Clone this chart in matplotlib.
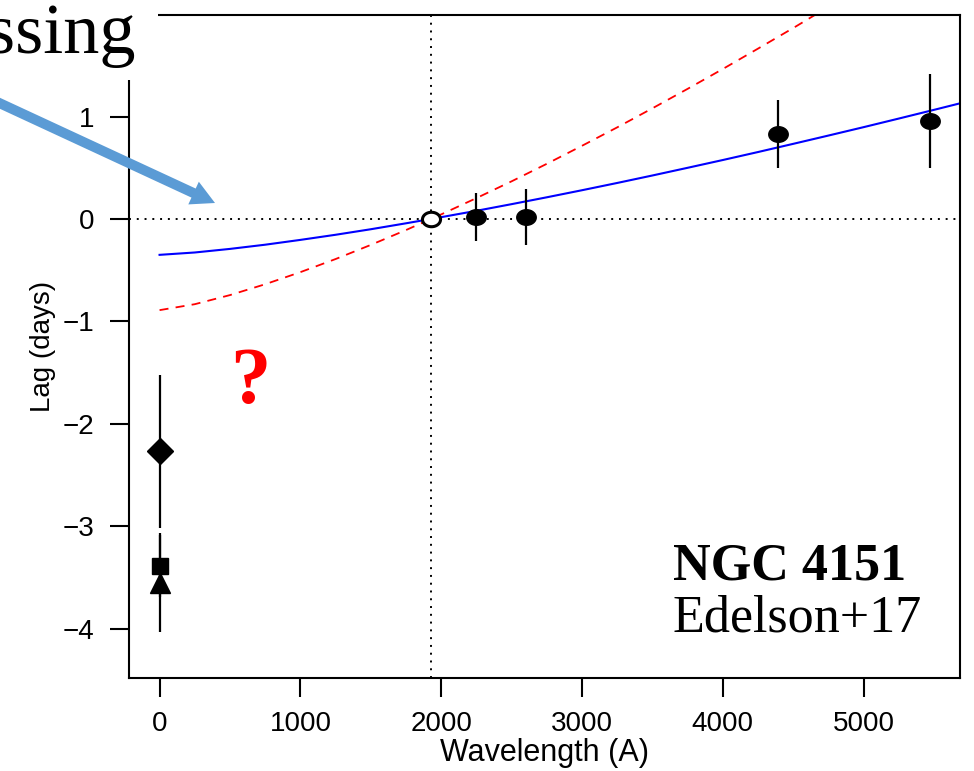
import numpy as np
import matplotlib
matplotlib.use("Agg")
import matplotlib.pyplot as plt
from matplotlib.path import Path
from matplotlib.patches import Rectangle

# --- DATA ---
# continuum lags relative to the 1928 A reference band
wave_pts = [2246, 2600, 4394, 5469]
lag_pts = [0.02, 0.02, 0.83, 0.96]
lag_err = [0.23, 0.27, 0.33, 0.46]

ref_wave = 1928
ref_lag = 0.0

# X-ray bands plotted at zero wavelength
xray_wave = [0, 0, 0]
xray_lag = [-2.27, -3.39, -3.55]
xray_err = [0.75, 0.30, 0.48]
xray_markers = ["D", "s", "^"]

# model curves read along the wavelength axis
model_wave = [0, 250, 500, 750, 1000, 1250, 1500, 1750, 2000, 2250, 2500, 2750,
              3000, 3250, 3500, 3750, 4000, 4250, 4500, 4750, 5000, 5250, 5500, 5700]
fit_lag = [-0.350, -0.327, -0.292, -0.251, -0.204, -0.154, -0.100, -0.042,
           0.018, 0.080, 0.145, 0.212, 0.281, 0.352, 0.425, 0.500, 0.576,
           0.654, 0.734, 0.815, 0.897, 0.981, 1.066, 1.135]
disk_lag = [-0.890, -0.832, -0.743, -0.637, -0.519, -0.391, -0.253, -0.108,
            0.045, 0.204, 0.368, 0.539, 0.715, 0.895, 1.081, 1.271, 1.465,
            1.664, 1.865, 2.072]

xticks = [0, 1000, 2000, 3000, 4000, 5000]
yticks = [-4, -3, -2, -1, 0, 1]

plt.rcParams['font.family'] = ['Liberation Sans', 'DejaVu Sans']
plt.rcParams['axes.unicode_minus'] = True

W, H = 974, 771
fig = plt.figure(figsize=(W / 100, H / 100), dpi=100)
ax = fig.add_axes([129 / W, 1 - 678 / H, (960 - 129) / W, (678 - 15) / H])

# slightly flattened circle marker
t = np.linspace(0, 2 * np.pi, 60)
ellipse = Path(np.column_stack([1.25 * np.cos(t), np.sin(t)]), closed=True)

dot = (0, (1, 3))
ax.axhline(0, color='black', lw=1.4, ls=dot, zorder=1)
ax.axvline(ref_wave, color='black', lw=1.4, ls=dot, zorder=1)

ax.plot(model_wave[:len(disk_lag)], disk_lag, color='#ff0000', lw=1.3,
        ls=(0, (5, 4)), zorder=2)
ax.plot(model_wave, fit_lag, color='#0000ff', lw=1.5, zorder=2)

ax.errorbar(wave_pts, lag_pts, yerr=lag_err, fmt='none', ecolor='black',
            elinewidth=1.6, capsize=0, zorder=3)
ax.plot(wave_pts, lag_pts, ls='none', marker=ellipse, ms=14,
        color='black', zorder=4)
ax.plot([ref_wave], [ref_lag], ls='none', marker=ellipse, ms=13,
        mfc='white', mec='black', mew=2.2, zorder=4)

marker_size = {"D": 13, "s": 12, "^": 15}
for w, l, e, m in zip(xray_wave, xray_lag, xray_err, xray_markers):
    ax.errorbar([w], [l], yerr=[e], fmt='none', ecolor='black',
                elinewidth=1.6, capsize=0, zorder=3)
    ax.plot([w], [l], ls='none', marker=m, ms=marker_size[m],
            color='black', zorder=4)

ax.set_xlim(-217, 5684)
ax.set_ylim(-4.482, 1.992)
ax.set_xticks(xticks)
ax.set_yticks(yticks)
ax.tick_params(axis='both', direction='out', length=14, width=1.5,
               labelsize=20)
ax.tick_params(axis='x', pad=9.5)
ax.tick_params(axis='y', pad=11)
for s in ax.spines.values():
    s.set_linewidth(1.5)

ax.set_xlabel('Wavelength (A)', fontsize=22)
ax.set_ylabel('Lag (days)', fontsize=20)
ax.xaxis.set_label_coords(0.5, -(738 - 678) / 663)
ax.yaxis.set_label_coords(-(129 - 56) / 831, 0.5)

serif = ['Liberation Serif', 'DejaVu Serif']
fig.text(250 / W, 1 - 383 / H, '?', family=serif, fontsize=58,
         fontweight='bold', color='#ff0000', ha='center', va='center')
fig.text(673 / W, 1 - 566 / H, 'NGC 4151', family=serif, fontsize=37.5,
         fontweight='bold', ha='left', va='center')
fig.text(672 / W, 1 - 618 / H, 'Edelson+17', family=serif, fontsize=37.5,
         ha='left', va='center')

# slide overlay in the top-left corner
fig.add_artist(Rectangle((0, 1 - 80 / H), 158 / W, 80 / H,
                         transform=fig.transFigure, facecolor='white',
                         edgecolor='none', zorder=5))
fig.text(135 / W, 1 - 53 / H, 'ssing', family=serif, fontsize=52,
         ha='right', va='baseline', zorder=6)
ax.annotate('', xy=(215, H - 203), xycoords='figure pixels',
            xytext=(-5, H - 101), textcoords='figure pixels',
            arrowprops=dict(arrowstyle='simple,head_length=0.85,head_width=0.9,tail_width=0.36',
                            mutation_scale=20, color='#5b9bd5', lw=0,
                            shrinkA=0, shrinkB=0),
            annotation_clip=False, zorder=6)

fig.savefig('out.png', dpi=100)
